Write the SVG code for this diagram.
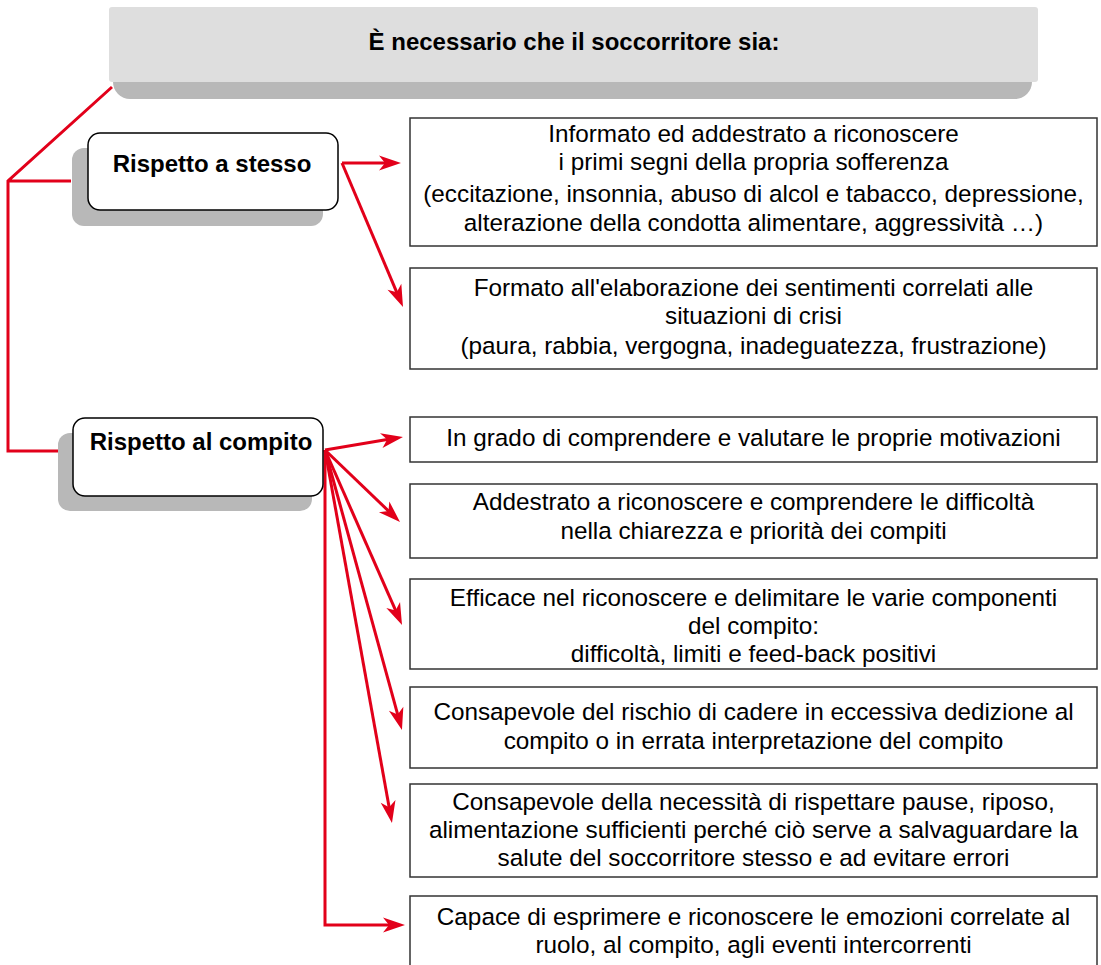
<svg xmlns="http://www.w3.org/2000/svg" width="1101" height="965" viewBox="0 0 1101 965">
<style>
text{font-family:"Liberation Sans",Arial,sans-serif;fill:#000}
.b{font-weight:bold;font-size:24px;text-anchor:middle}
.t{font-size:24.3px;text-anchor:middle}
.box{fill:#fff;stroke:#333;stroke-width:1.5}
.node{fill:#fff;stroke:#000;stroke-width:1.5}
.sh{fill:#b8b8b8}
.c{fill:none;stroke:#e2001a;stroke-width:3}
.a{marker-end:url(#ah)}
</style>
<defs>
<marker id="ah" markerUnits="userSpaceOnUse" viewBox="-14 -8 26 16" markerWidth="26" markerHeight="16" refX="0" refY="0" orient="auto">
<path d="M10,0 L-12,-7.5 L-6,0 L-12,7.5 Z" fill="#e2001a"/>
</marker>
</defs>
<rect width="1101" height="965" fill="#fff"/>
<g id="header">
<rect class="sh" x="113" y="20" width="919" height="79" rx="17"/>
<rect x="109" y="7" width="929" height="75" rx="3" fill="#dedede"/>
<text class="b" x="574" y="50">È necessario che il soccorritore sia:</text>
</g>
<g id="connectors">
<path class="c" d="M112,87 L8,181 V451 H71 M8,181 H71"/>
<path class="c a" d="M342,163 H391"/>
<path class="c a" d="M342,163 L399.1,297.8"/>
<path class="c a" d="M325,450 L393.1,438.6"/>
<path class="c a" d="M325,450 L392.8,515.1"/>
<path class="c a" d="M325,450 L398,615.9"/>
<path class="c a" d="M325,450 L399.3,720.4"/>
<path class="c a" d="M325,450 L390.2,813.2"/>
<path class="c a" d="M325,450 V925 H395"/>
</g>
<g id="node-stesso">
<rect class="sh" x="72" y="148" width="251" height="78" rx="12"/>
<rect class="node" x="88" y="133" width="250" height="77" rx="12"/>
<text class="b" x="212" y="172">Rispetto a stesso</text>
</g>
<g id="node-compito">
<rect class="sh" x="58" y="433" width="254" height="78" rx="12"/>
<rect class="node" x="73" y="418" width="250" height="78" rx="12"/>
<text class="b" x="201" y="450">Rispetto al compito</text>
</g>
<g id="box1">
<rect class="box" x="410" y="118" width="687" height="128"/>
<text class="t" x="753.5" y="142">Informato ed addestrato a riconoscere</text>
<text class="t" x="753.5" y="170">i primi segni della propria sofferenza</text>
<text class="t" x="753.5" y="202">(eccitazione, insonnia, abuso di alcol e tabacco, depressione,</text>
<text class="t" x="753.5" y="231">alterazione della condotta alimentare, aggressività …)</text>
</g>
<g id="box2">
<rect class="box" x="410" y="268" width="687" height="101"/>
<text class="t" x="753.5" y="296">Formato all'elaborazione dei sentimenti correlati alle</text>
<text class="t" x="753.5" y="324">situazioni di crisi</text>
<text class="t" x="753.5" y="354">(paura, rabbia, vergogna, inadeguatezza, frustrazione)</text>
</g>
<g id="box3">
<rect class="box" x="410" y="417" width="687" height="45"/>
<text class="t" x="753.5" y="446">In grado di comprendere e valutare le proprie motivazioni</text>
</g>
<g id="box4">
<rect class="box" x="410" y="484" width="687" height="74"/>
<text class="t" x="753.5" y="510">Addestrato a riconoscere e comprendere le difficoltà</text>
<text class="t" x="753.5" y="539">nella chiarezza e priorità dei compiti</text>
</g>
<g id="box5">
<rect class="box" x="410" y="579" width="687" height="90"/>
<text class="t" x="753.5" y="606">Efficace nel riconoscere e delimitare le varie componenti</text>
<text class="t" x="753.5" y="634">del compito:</text>
<text class="t" x="753.5" y="662">difficoltà, limiti e feed-back positivi</text>
</g>
<g id="box6">
<rect class="box" x="410" y="687" width="687" height="81"/>
<text class="t" x="753.5" y="720">Consapevole del rischio di cadere in eccessiva dedizione al</text>
<text class="t" x="753.5" y="749">compito o in errata interpretazione del compito</text>
</g>
<g id="box7">
<rect class="box" x="410" y="784" width="687" height="93"/>
<text class="t" x="753.5" y="810">Consapevole della necessità di rispettare pause, riposo,</text>
<text class="t" x="753.5" y="838">alimentazione sufficienti perché ciò serve a salvaguardare la</text>
<text class="t" x="753.5" y="866">salute del soccorritore stesso e ad evitare errori</text>
</g>
<g id="box8">
<rect class="box" x="410" y="896" width="687" height="75"/>
<text class="t" x="753.5" y="925">Capace di esprimere e riconoscere le emozioni correlate al</text>
<text class="t" x="753.5" y="953">ruolo, al compito, agli eventi intercorrenti</text>
</g>
</svg>
